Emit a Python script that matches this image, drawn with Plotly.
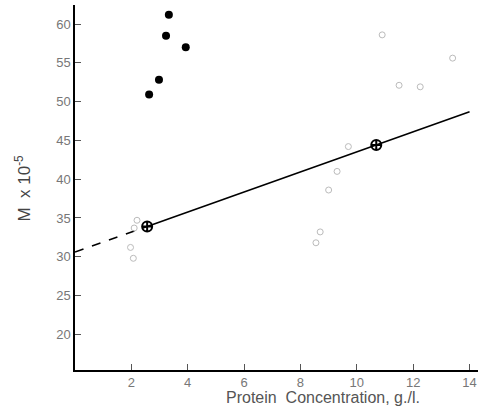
import plotly.graph_objects as go

# Filled points (black dots)
dots_x = [3.33, 3.23, 3.93, 2.98, 2.63]
dots_y = [61.2, 58.5, 57.0, 52.8, 50.9]

# Circled reference points
ref_x = [2.56, 10.69]
ref_y = [33.9, 44.4]

# Faint open symbols
faint_x = [10.9, 13.4, 11.5, 12.25, 9.7, 9.3, 9.0, 8.7, 8.55, 2.2, 2.1, 1.97, 2.07]
faint_y = [58.6, 55.6, 52.1, 51.9, 44.2, 41.0, 38.6, 33.2, 31.8, 34.7, 33.7, 31.2, 29.8]

# Fitted line: dashed extrapolation and solid part
dash_x = [0.0, 2.56]
dash_y = [30.6, 33.9]
solid_x = [2.56, 14.0]
solid_y = [33.9, 48.7]

x_ticks = [2, 4, 6, 8, 10, 12, 14]
x_labels = ["2", "4", "6", "8", "10", "12", "14"]
y_ticks = [20, 25, 30, 35, 40, 45, 50, 55, 60]
y_labels = ["20", "25", "30", "35", "40", "45", "50", "55", "60"]

FONT = "Liberation Sans, Arial, sans-serif"

fig = go.Figure()
fig.add_trace(go.Scatter(x=dash_x, y=dash_y, mode="lines",
                         line=dict(color="black", width=1.6, dash="dash"),
                         showlegend=False, hoverinfo="skip"))
fig.add_trace(go.Scatter(x=solid_x, y=solid_y, mode="lines",
                         line=dict(color="black", width=1.6),
                         showlegend=False, hoverinfo="skip"))
fig.add_trace(go.Scatter(x=faint_x, y=faint_y, mode="markers",
                         marker=dict(symbol="circle-open", size=6, color="#bbbbbb",
                                     line=dict(width=1)),
                         showlegend=False))
fig.add_trace(go.Scatter(x=ref_x, y=ref_y, mode="markers",
                         marker=dict(symbol="circle-cross-open", size=10, color="black",
                                     line=dict(width=2)),
                         showlegend=False))
fig.add_trace(go.Scatter(x=dots_x, y=dots_y, mode="markers",
                         marker=dict(symbol="circle", size=8, color="black"),
                         showlegend=False))

fig.update_layout(
    width=480, height=410,
    margin=dict(l=75, r=2, t=5, b=40),
    paper_bgcolor="white", plot_bgcolor="white",
    font=dict(family=FONT, color="#777777", size=13),
    xaxis=dict(range=[0, 14.3], tickmode="array", tickvals=x_ticks, ticktext=x_labels,
               showgrid=False, zeroline=False, showline=True, linecolor="black",
               linewidth=1.5, ticks="inside", ticklen=6, tickcolor="#555555",
               tickfont=dict(family=FONT, size=13, color="#777777")),
    yaxis=dict(range=[15.4, 62.45], tickmode="array", tickvals=y_ticks, ticktext=y_labels,
               showgrid=False, zeroline=False, showline=True, linecolor="black",
               linewidth=1.5, ticks="inside", ticklen=6, tickcolor="#555555",
               tickfont=dict(family=FONT, size=13, color="#777777")),
    annotations=[
        dict(text="Protein  Concentration, g./l.", xref="paper", yref="paper",
             x=(323 - 75) / (480 - 77), y=-0.075, xanchor="center", yanchor="middle",
             showarrow=False, font=dict(family=FONT, size=16, color="#555555")),
        dict(text="M  x 10<sup>-5</sup>", xref="paper", yref="paper",
             x=-0.13, y=(370 - 188) / 365, xanchor="center", yanchor="middle",
             textangle=-90, showarrow=False, font=dict(family=FONT, size=17, color="#444444")),
    ],
)

fig.write_html("out.html")
